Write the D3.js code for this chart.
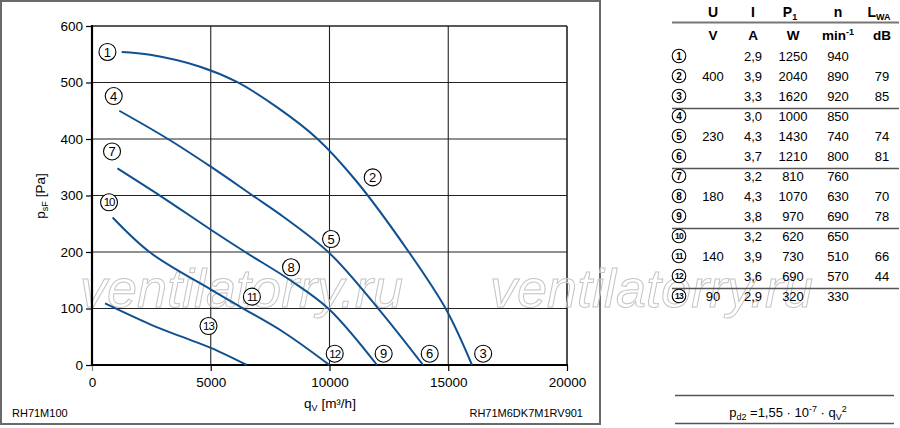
<!DOCTYPE html>
<html><head><meta charset="utf-8">
<script src="https://cdn.jsdelivr.net/npm/d3@7"></script>
<style>
html,body{margin:0;padding:0;background:#fff;}
svg{display:block;font-family:"Liberation Sans",Arial,Helvetica,sans-serif;}
</style></head>
<body>
<svg id="c" width="900" height="428"></svg>
<script>
// ---------- data ----------
const flowTicks = [0, 5000, 10000, 15000, 20000];
const pressureTicks = [0, 100, 200, 300, 400, 500, 600];

// fan curves (q_V [m3/h], p_sF [Pa])
const curve400 = [[1250,554],[2450,549],[4550,528],[6100,501],[7800,456],[9475,401],[11100,327],[13340,200],[14900,99],[16000,0]];
const curve230 = [[1150,450],[3200,400],[5000,351],[6800,299],[8070,262],[10000,198],[12070,99],[13940,0]];
const curve180 = [[1070,348],[2890,299],[5020,239],[6450,200],[8350,150],[9950,100],[12000,0]];
const curve140 = [[870,261],[2450,199],[5030,133],[6240,103],[8070,58],[10000,0]];
const curve90  = [[550,109],[2450,72],[3710,51],[5030,30],[6520,0]];

// operating point markers
const labelNums = [1,2,3,4,5,6,7,8,9,10,11,12,13];
const labelQ = [650, 11820, 16470, 915, 10065, 14220, 843, 8380, 12280, 717, 6733, 10220, 4905];
const labelP = [554, 332, 20, 476, 223, 20, 378, 173, 20, 288, 121, 20, 69];

// table
const rowU  = ["", "400", "", "", "230", "", "", "180", "", "", "140", "", "90"];
const rowI  = ["2,9","3,9","3,3","3,0","4,3","3,7","3,2","4,3","3,8","3,2","3,9","3,6","2,9"];
const rowP1 = ["1250","2040","1620","1000","1430","1210","810","1070","970","620","730","690","320"];
const rowN  = ["940","890","920","850","740","800","760","630","690","650","510","570","330"];
const rowL  = ["","79","85","","74","81","","70","78","","66","44",""];
const groupStarts = [3, 6, 9, 12];

// ---------- drawing ----------
const svg = d3.select("#c");
const curveColor = "#11508f";

// outer frame
svg.append("rect").attr("x",1).attr("y",1).attr("width",599).attr("height",423)
  .attr("fill","none").attr("stroke","#6a6a6a").attr("stroke-width",2);

const x = d3.scaleLinear().domain([0,20000]).range([92,567]);
const y = d3.scaleLinear().domain([0,600]).range([365,26]);

// grid
const g = svg.append("g");
g.selectAll("line.vg").data(flowTicks.slice(1)).join("line")
  .attr("x1",d=>x(d)).attr("x2",d=>x(d)).attr("y1",y(0)).attr("y2",y(600))
  .attr("stroke","#222").attr("stroke-width",d=>d===20000?1.6:1.1);
g.selectAll("line.hg").data(pressureTicks.slice(1)).join("line")
  .attr("x1",x(0)).attr("x2",x(20000)).attr("y1",d=>y(d)).attr("y2",d=>y(d))
  .attr("stroke","#222").attr("stroke-width",d=>d===600?1.6:1.1);

// watermark (below marks)
svg.append("g").selectAll("text").data([80, 490]).join("text")
  .attr("x",d=>d).attr("y",307).attr("font-size",54).attr("font-style","italic")
  .attr("fill","#fff").attr("fill-opacity",0.35).attr("stroke","#c4c4c4").attr("stroke-width",1)
  .text("ventilatorry.ru");

// axes
const xAxis = d3.axisBottom(x).tickValues(flowTicks).tickSize(6).tickPadding(4).tickFormat(d3.format("d"));
const yAxis = d3.axisLeft(y).tickValues(pressureTicks).tickSize(6).tickPadding(3).tickFormat(d3.format("d"));
const gx = svg.append("g").attr("transform",`translate(0,${y(0)})`).call(xAxis);
const gy = svg.append("g").attr("transform",`translate(${x(0)},0)`).call(yAxis);
[gx,gy].forEach(a=>{
  a.select(".domain").remove();
  a.selectAll(".tick line").attr("stroke","#000").attr("stroke-width",1.2);
  a.selectAll(".tick text").attr("font-size",13.5).attr("fill","#000")
    .attr("font-family","Liberation Sans, Arial, sans-serif");
});
gx.selectAll(".tick line").filter(d=>d===0).attr("stroke","#888");
gx.selectAll(".tick text").attr("dy","0.9em");
svg.append("line").attr("x1",x(0)).attr("x2",x(0)).attr("y1",y(0)+1).attr("y2",y(600)-1)
  .attr("stroke","#000").attr("stroke-width",2.2);
svg.append("line").attr("x1",x(0)-1).attr("x2",x(20000)+1).attr("y1",y(0)).attr("y2",y(0))
  .attr("stroke","#000").attr("stroke-width",2.2);

// curves
const line = d3.line().x(d=>x(d[0])).y(d=>y(d[1])).curve(d3.curveCatmullRom.alpha(0.5));
svg.append("g").selectAll("path").data([curve400,curve230,curve180,curve140,curve90]).join("path")
  .attr("d",line).attr("fill","none").attr("stroke",curveColor).attr("stroke-width",2);

// markers
const mk = svg.append("g").selectAll("g").data(labelNums).join("g")
  .attr("transform",(d,i)=>`translate(${x(labelQ[i])},${y(labelP[i])})`);
mk.append("circle").attr("r",8.5).attr("fill","#fff").attr("stroke","#000").attr("stroke-width",1.1);
mk.append("text").text(d=>d).attr("text-anchor","middle").attr("dy","0.36em")
  .attr("font-size",d=>d>9?11.5:13).attr("letter-spacing",d=>d>9?"-1":"0");

// axis titles
const yt = svg.append("text").attr("transform","translate(45,196) rotate(-90)")
  .attr("text-anchor","middle").attr("font-size",13.5);
yt.append("tspan").text("p");
yt.append("tspan").text("sF").attr("font-size",9).attr("dy",3);
yt.append("tspan").text(" [Pa]").attr("dy",-3);

const xt = svg.append("text").attr("x",330).attr("y",408).attr("text-anchor","middle").attr("font-size",13.5);
xt.append("tspan").text("q");
xt.append("tspan").text("V").attr("font-size",9).attr("dy",3);
xt.append("tspan").text(" [m³/h]").attr("dy",-3);

svg.append("text").attr("x",12).attr("y",417).attr("font-size",11).text("RH71M100");
svg.append("text").attr("x",583).attr("y",417).attr("font-size",11).attr("text-anchor","end").text("RH71M6DK7M1RV901");

// ---------- table ----------
const tbl = svg.append("g").attr("font-size",13);
const colX = {U:713, I:753, P:793, N:838, L:882};
const hdr1 = tbl.append("g").attr("font-weight","bold").attr("font-size",14);
hdr1.append("text").attr("x",colX.U).attr("y",17).attr("text-anchor","middle").text("U");
hdr1.append("text").attr("x",colX.I).attr("y",17).attr("text-anchor","middle").text("I");
const tp = hdr1.append("text").attr("x",colX.P-3).attr("y",17).attr("text-anchor","middle");
tp.append("tspan").text("P");
tp.append("tspan").text("1").attr("font-size",9).attr("dy",3);
hdr1.append("text").attr("x",colX.N).attr("y",17).attr("text-anchor","middle").text("n");
const tl = hdr1.append("text").attr("x",879).attr("y",17).attr("text-anchor","middle");
tl.append("tspan").text("L");
tl.append("tspan").text("WA").attr("font-size",9).attr("dy",3);

tbl.append("line").attr("x1",672).attr("x2",899).attr("y1",22.5).attr("y2",22.5)
  .attr("stroke","#777").attr("stroke-width",2);

const hdr2 = tbl.append("g").attr("font-weight","bold").attr("font-size",13.5);
hdr2.append("text").attr("x",colX.U).attr("y",40).attr("text-anchor","middle").text("V");
hdr2.append("text").attr("x",colX.I).attr("y",40).attr("text-anchor","middle").text("A");
hdr2.append("text").attr("x",colX.P).attr("y",40).attr("text-anchor","middle").text("W");
const tm = hdr2.append("text").attr("x",colX.N).attr("y",40).attr("text-anchor","middle");
tm.append("tspan").text("min");
tm.append("tspan").text("-1").attr("font-size",9).attr("dy",-5);
hdr2.append("text").attr("x",colX.L).attr("y",40).attr("text-anchor","middle").text("dB");

const rowY = d3.scaleLinear().domain([0,12]).range([56,296]);
tbl.selectAll("line.sep").data(groupStarts).join("line")
  .attr("x1",672).attr("x2",899).attr("y1",d=>rowY(d)-7.5).attr("y2",d=>rowY(d)-7.5)
  .attr("stroke","#555").attr("stroke-width",1.3);
const rows = tbl.append("g").selectAll("g").data(labelNums).join("g")
  .attr("transform",(d,i)=>`translate(0,${rowY(i)})`);
rows.append("circle").attr("cx",679).attr("r",6.8).attr("fill","#fff").attr("stroke","#000").attr("stroke-width",1.1);
rows.append("text").attr("x",679).attr("dy","0.35em").attr("text-anchor","middle")
  .attr("font-size",d=>d>9?8.5:10).attr("font-weight","bold").attr("letter-spacing",d=>d>9?"-0.8":"0").text(d=>d);
const cols = [[colX.U,rowU],[colX.I,rowI],[colX.P,rowP1],[colX.N,rowN],[colX.L,rowL]];
cols.forEach(([cx,arr])=>{
  rows.append("text").attr("x",cx).attr("dy","0.36em").attr("text-anchor","middle").text((d,i)=>arr[i]);
});

// formula block
svg.append("line").attr("x1",675).attr("x2",894).attr("y1",395.5).attr("y2",395.5).attr("stroke","#555").attr("stroke-width",1.3);
svg.append("line").attr("x1",675).attr("x2",894).attr("y1",423.5).attr("y2",423.5).attr("stroke","#555").attr("stroke-width",1.3);
const fm = svg.append("text").attr("x",788).attr("y",417).attr("text-anchor","middle").attr("font-size",13);
fm.append("tspan").text("p");
fm.append("tspan").text("d2").attr("font-size",9).attr("dy",3);
fm.append("tspan").text(" =1,55 · 10").attr("dy",-3);
fm.append("tspan").text("-7").attr("font-size",9).attr("dy",-5);
fm.append("tspan").text(" · q").attr("dy",5);
fm.append("tspan").text("V").attr("font-size",9).attr("dy",3);
fm.append("tspan").text("2").attr("font-size",9).attr("dy",-8);
</script>
</body></html>
